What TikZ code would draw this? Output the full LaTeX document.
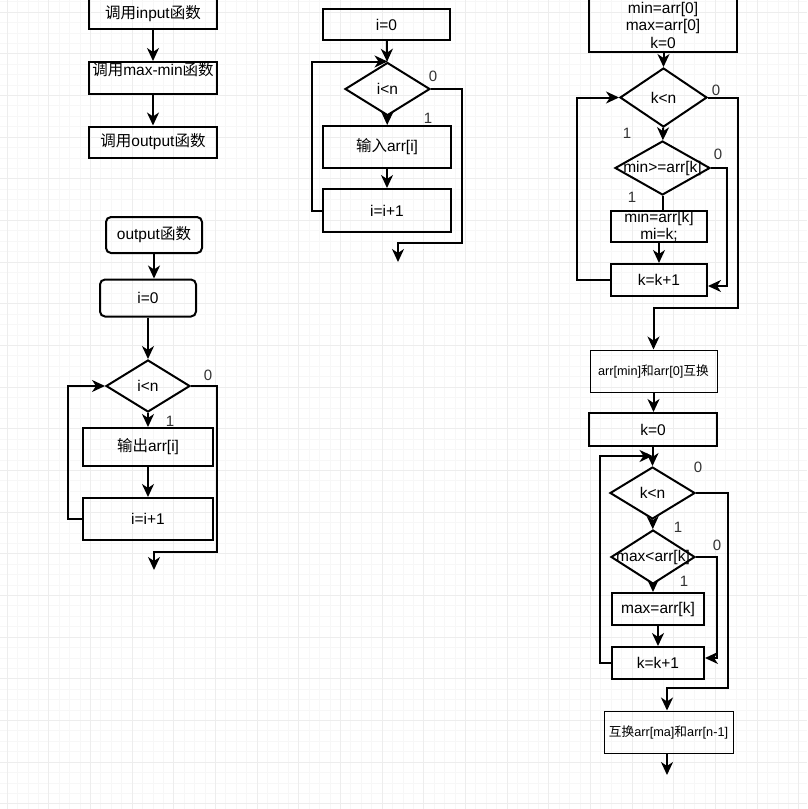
\documentclass[tikz,border=0pt]{standalone}
\usepackage{fontspec}
\setmainfont{Liberation Sans}
\newfontfamily\cjk{Noto Sans CJK SC}
\usetikzlibrary{shapes.geometric}
\usetikzlibrary{arrows.meta}
\newcommand{\ZH}[1]{{\cjk #1}}
\newcommand{\DT}[1]{\makebox[0pt]{#1}}

\begin{document}
\begin{tikzpicture}[x=1pt, y=-1pt, line width=2pt, >={Stealth[length=13pt,width=12pt,inset=4pt]}]
	\tikzstyle{box}=[rectangle, draw=black, line width=2pt, inner sep=0pt, align=center, font=\fontsize{15.5}{17.5}\selectfont]
	\tikzstyle{thinbox}=[box, line width=1pt, font=\fontsize{12.7}{15}\selectfont]
	\tikzstyle{soft}=[box, rounded corners=5pt]
	\tikzstyle{zh}=[text height=11pt, text depth=3pt]
	\tikzstyle{cond}=[diamond, draw=black, line width=2pt, inner sep=0pt, font=\fontsize{15.5}{17.5}\selectfont]
	\tikzstyle{annot}=[inner sep=0pt, text=black!80, font=\fontsize{15}{17}\selectfont]
	\tikzstyle{flow}=[->, line width=2pt]
	
	\useasboundingbox (0,0) rectangle (807,809);
	
	% Draw background grid
	\fill[white] (0,0) rectangle (807,809);
	\foreach \k in {0,...,78} \draw[gray!6, line width=0.6pt] ({-3.4+10.4167*\k},0) -- ++(0,809);
	\foreach \k in {0,...,78} \draw[gray!6, line width=0.6pt] (0,{1.6+10.4167*\k}) -- ++(807,0);
	\foreach \k in {0,...,19} \draw[gray!14, line width=0.8pt] ({7+41.667*\k},0) -- ++(0,809);
	\foreach \k in {0,...,19} \draw[gray!14, line width=0.8pt] (0,{12+41.667*\k}) -- ++(807,0);
	
	% Draw main calls
	\node[box, zh, minimum width=128, minimum height=30] (callin) at (153,14) {\ZH{调用}input\ZH{函数}};
	\node[box, minimum width=128, minimum height=32] (callmm) at (153,78) {\ZH{调用}max-min\ZH{函数}\\\mbox{}};
	\node[box, zh, minimum width=128, minimum height=31] (callout) at (153,142) {\ZH{调用}output\ZH{函数}};
	
	% Draw output function
	\node[soft, zh, minimum width=96, minimum height=36] (outfunc) at (154,235) {output\ZH{函数}};
	\node[soft, minimum width=96, minimum height=37] (outinit) at (148,298) {i=0};
	\node[cond, minimum width=84, minimum height=52] (outcond) at (148,386) {\DT{i<n}};
	\node[box, zh, minimum width=130, minimum height=38] (outprint) at (148,447) {\ZH{输出}arr[i]};
	\node[box, minimum width=130, minimum height=42] (outinc) at (148,519) {i=i+1};
	\coordinate (outturn) at (217,552);
	\coordinate (outend) at (154,570);
	
	% Draw input function
	\node[box, minimum width=127, minimum height=31] (ininit) at (386.5,24.5) {i=0};
	\node[cond, minimum width=85, minimum height=53] (incond) at (387.5,89) {\DT{i<n}};
	\node[box, zh, minimum width=128, minimum height=42] (inread) at (387,147) {\ZH{输入}arr[i]};
	\node[box, minimum width=128, minimum height=43] (ininc) at (387,210.5) {i=i+1};
	\coordinate (inturn) at (462,243);
	\coordinate (inend) at (398,262);
	
	% Draw max-min function
	\node[box, minimum width=148, minimum height=54] (initmm) at (663,25) {min=arr[0]\\max=arr[0]\\k=0};
	\node[cond, minimum width=87, minimum height=59] (mincheck) at (663.5,97.5) {\DT{k<n}};
	\node[cond, minimum width=95, minimum height=54] (mincmp) at (662.5,168) {\DT{min>=arr[k]}};
	\node[box, minimum width=96, minimum height=31] (setmin) at (659,226.5) {min=arr[k]\\mi=k;};
	\node[box, minimum width=96, minimum height=32] (minstep) at (659,280) {k=k+1};
	\coordinate (minskip) at (727,286);
	\coordinate (minturn) at (738,308);
	\node[thinbox, zh, minimum width=127, minimum height=42] (swapmin) at (653.5,371) {arr[min]\ZH{和}arr[0]\ZH{互换}};
	\node[box, minimum width=128, minimum height=33] (maxinit) at (653,429.5) {k=0};
	\coordinate (maxjoin) at (652.5,456);
	\node[cond, minimum width=85, minimum height=52] (maxcheck) at (652.5,493) {\DT{k<n}};
	\node[cond, minimum width=84, minimum height=54] (maxcmp) at (653,557) {\DT{max<arr[k]}};
	\node[box, minimum width=92, minimum height=32] (setmax) at (658,609) {max=arr[k]};
	\node[box, minimum width=92, minimum height=32] (maxstep) at (658,663) {k=k+1};
	\coordinate (maxskip) at (717,658);
	\coordinate (maxturn) at (728,688);
	\node[thinbox, zh, minimum width=129, minimum height=42] (swapmax) at (668.5,732) {\ZH{互换}arr[ma]\ZH{和}arr[n-1]};
	\coordinate (maxend) at (667,775);
	
	% Draw arrows
	\draw[flow] (callin) -- (callmm);
	\draw[flow] (callmm) -- (callout);
	
	\draw[flow] (outfunc.south) -- (outfunc.south |- outinit.north);
	\draw[flow] (outinit) -- (outcond);
	\draw[flow] (outcond) -- (outprint);
	\draw[flow] (outprint) -- (outinc);
	\draw[flow] (outinc.west) -- ++(-14,0) |- (outcond.west);
	\draw[flow] (outcond.east) -| (outturn) -| (outend);
	
	\draw[flow] (ininit) -- (incond);
	\draw[flow] (incond) -- (inread);
	\draw[flow] (inread) -- (ininc);
	\draw[flow] (ininc.west) -- ++(-10,0) |- (incond.north);
	\draw[flow] (incond.east) -| (inturn) -| (inend);
	
	\draw[flow] (initmm.south -| mincheck.north) -- (mincheck.north);
	\draw[flow] (mincheck) -- (mincmp);
	\draw (mincmp.south) -- (mincmp.south |- setmin.north);
	\draw[flow] (setmin) -- (minstep);
	\draw[flow] (mincmp.east) -| (minskip) -- (minstep.east |- minskip);
	\draw[flow] (minstep.west) -- ++(-33,0) |- (mincheck.west);
	\draw[flow] (mincheck.east) -| (minturn) -| (swapmin.north);
	\draw[flow] (swapmin) -- (swapmin |- maxinit.north);
	\draw[flow] (maxinit.south -| maxcheck.north) -- (maxcheck.north);
	\draw[flow] (maxstep.west) -- ++(-11,0) |- (maxjoin);
	\draw[flow] (maxcheck) -- (maxcmp);
	\draw[flow] (maxcmp.south) -- (maxcmp.south |- setmax.north);
	\draw[flow] (setmax) -- (maxstep);
	\draw[flow] (maxcmp.east) -| (maxskip) -- (maxstep.east |- maxskip);
	\draw[flow] (maxcheck.east) -| (maxturn) -| (swapmax.north -| maxend);
	\draw[flow] (swapmax.south -| maxend) -- (maxend);
	
	% Draw branch labels
	\node[annot] (outno) at (208,375) {0};
	\node[annot] (outyes) at (170,421) {1};
	\node[annot] (inno) at (433,76) {0};
	\node[annot] (inyes) at (428,118) {1};
	\node[annot] (minno) at (716,90) {0};
	\node[annot] (minyes) at (627,133) {1};
	\node[annot] (cmpno) at (718,154) {0};
	\node[annot] (cmpyes) at (632,197) {1};
	\node[annot] (maxno) at (698,467) {0};
	\node[annot] (maxyes) at (678,527) {1};
	\node[annot] (bigno) at (717,545) {0};
	\node[annot] (bigyes) at (684,581) {1};
	
\end{tikzpicture}
\end{document}
